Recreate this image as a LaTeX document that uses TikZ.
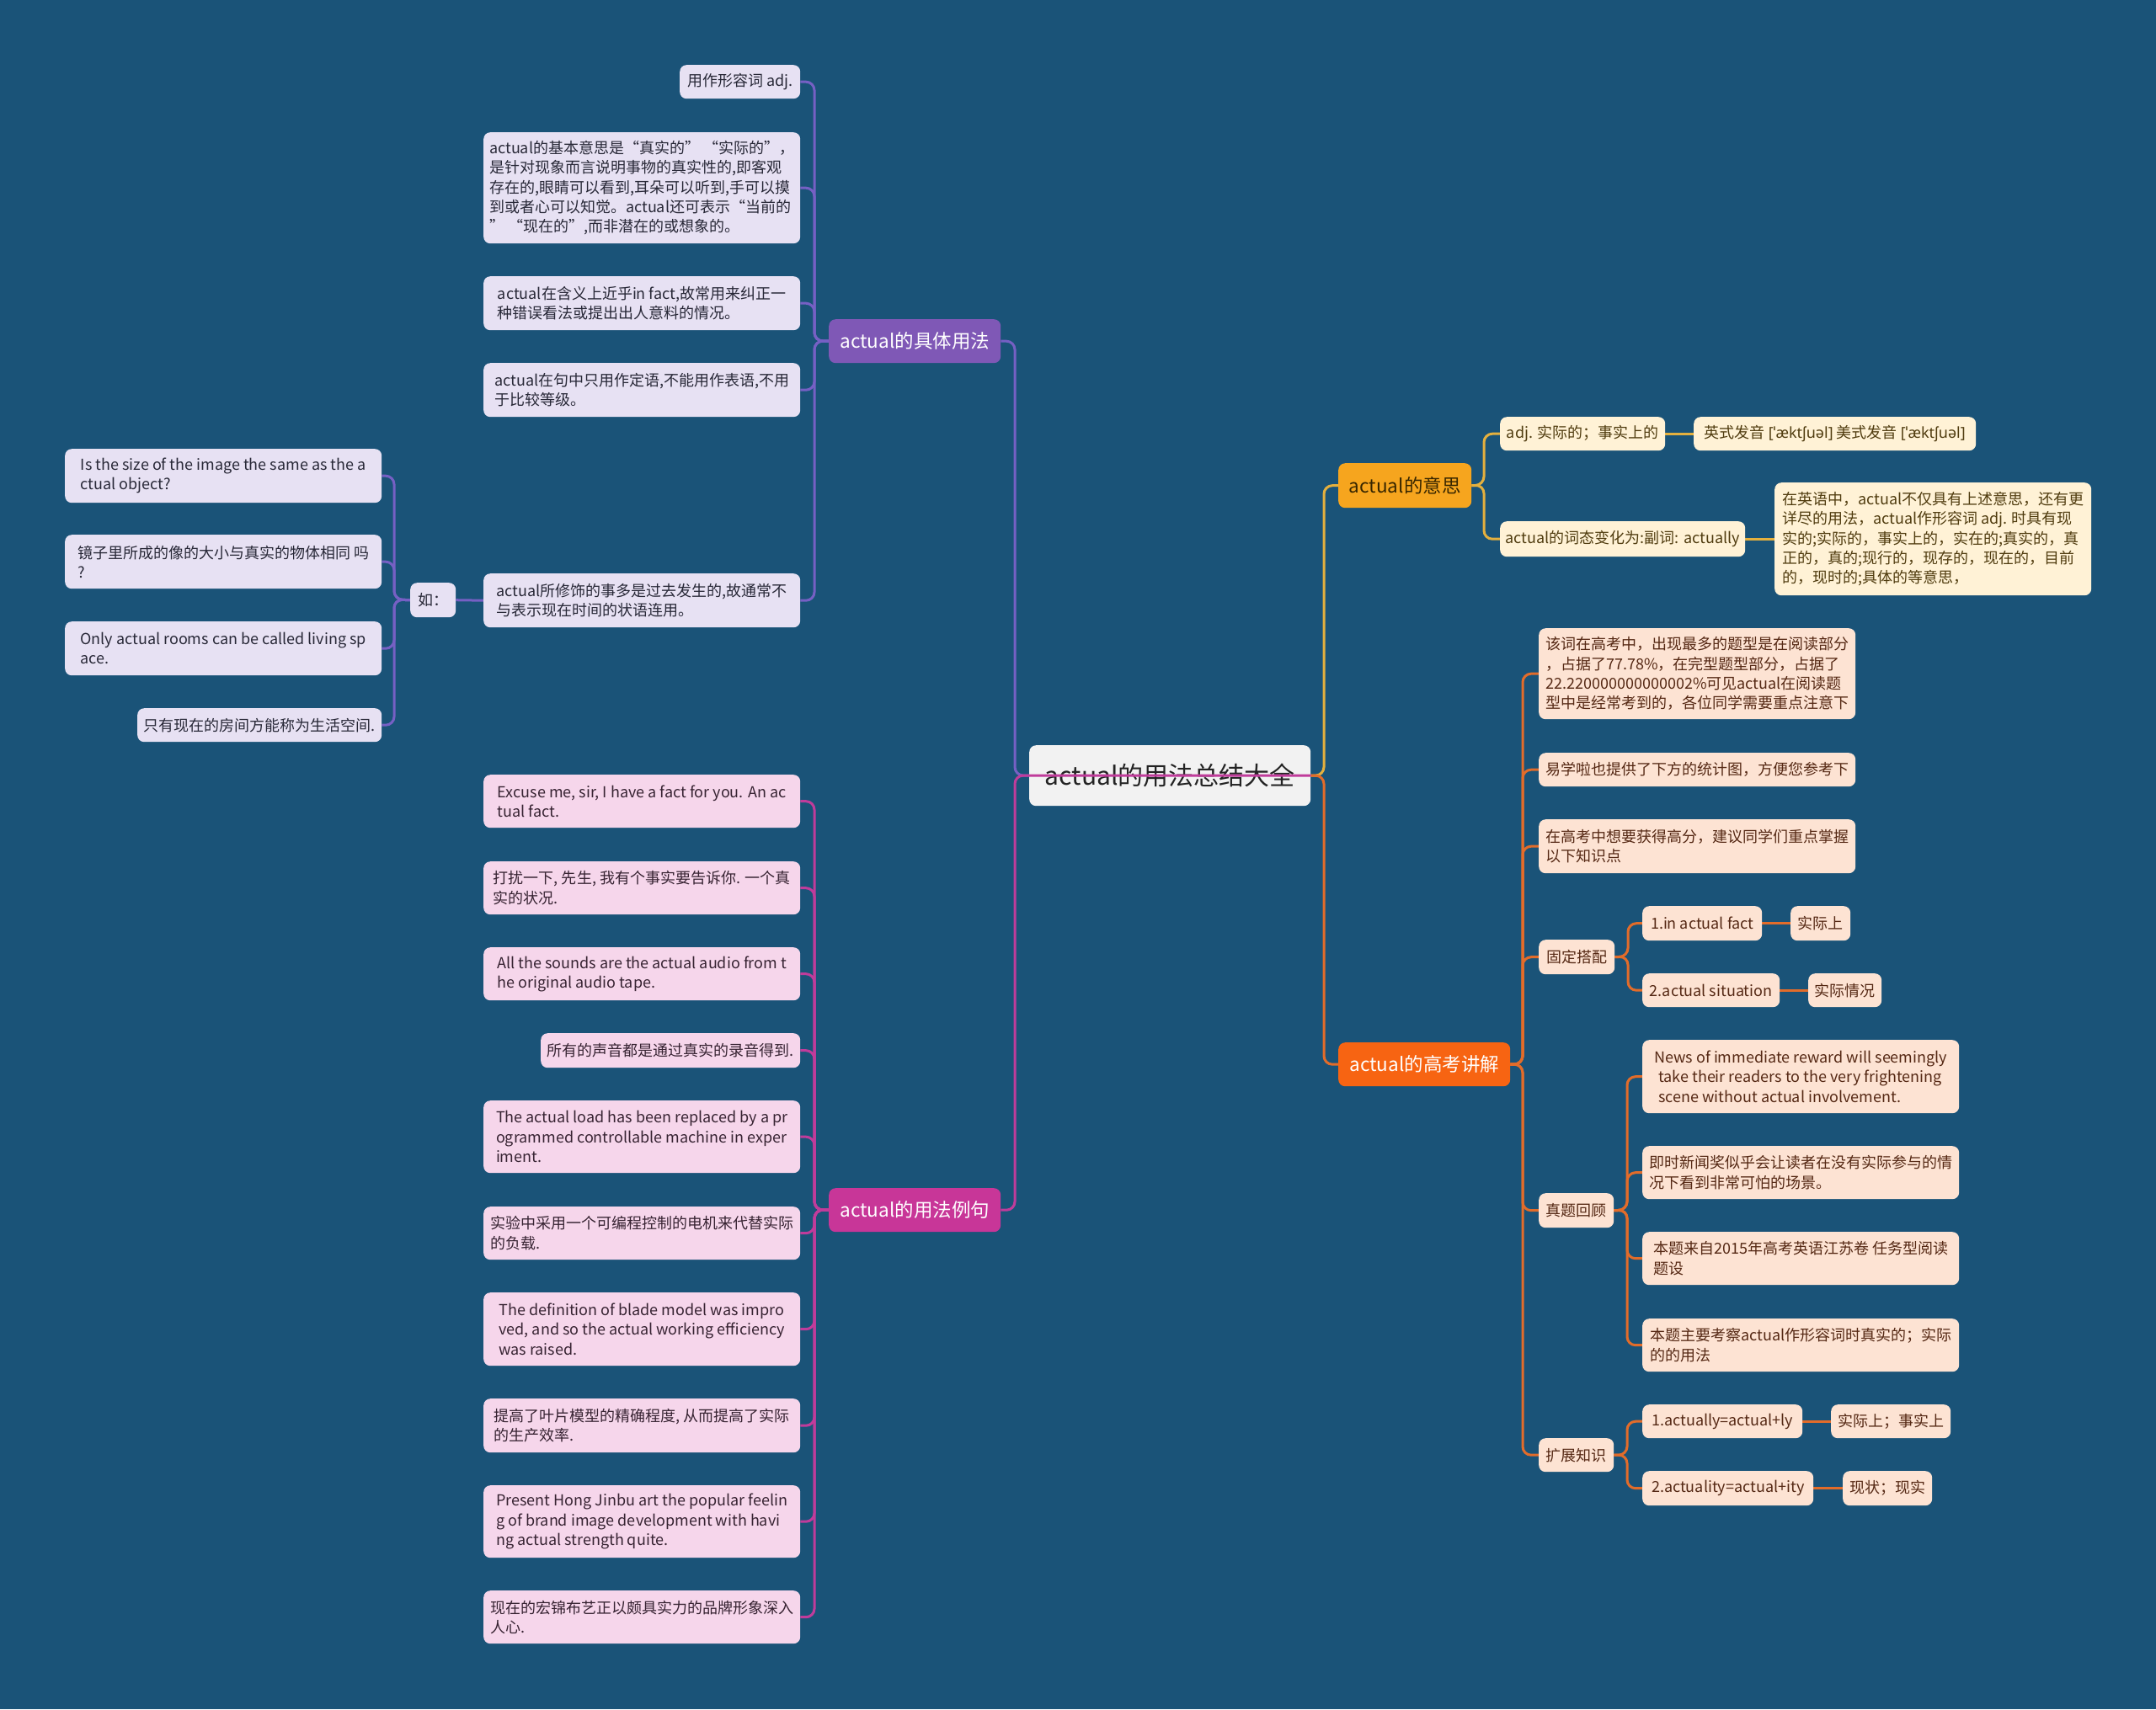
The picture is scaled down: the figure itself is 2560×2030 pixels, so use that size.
\documentclass[tikz,border=0pt]{standalone}
\usepackage{fontspec}
\setmainfont{Noto Sans CJK SC}
\newfontfamily\ipafont{Noto Sans}
\newcommand\leaffont{\fontsize{18}{23.3}\selectfont}
\newcommand\branchfont{\fontsize{22.5}{27}\selectfont}
\newcommand\rootfont{\fontsize{30}{36}\selectfont}
\definecolor{bgc}{RGB}{26,83,120}
\definecolor{purb}{RGB}{127,88,182}
\definecolor{purl}{RGB}{118,96,196}
\definecolor{magb}{RGB}{200,54,152}
\definecolor{magl}{RGB}{192,60,155}
\definecolor{goldb}{RGB}{246,165,30}
\definecolor{goldl}{RGB}{228,176,62}
\definecolor{orab}{RGB}{247,100,18}
\definecolor{oral}{RGB}{226,108,42}
\definecolor{lavf}{RGB}{231,225,243}
\definecolor{pinkf}{RGB}{246,214,235}
\definecolor{creamf}{RGB}{255,242,214}
\definecolor{peachf}{RGB}{253,227,211}
\definecolor{rootf}{RGB}{242,242,242}
\definecolor{lavt}{RGB}{40,40,55}
\definecolor{pinkt}{RGB}{55,35,50}
\definecolor{creamt}{RGB}{80,60,15}
\definecolor{peacht}{RGB}{85,40,20}
\pgfdeclarelayer{bg}
\pgfdeclarelayer{lines}
\pgfsetlayers{bg,lines,main}
\tikzset{
  sz/.style 2 args={minimum width=#1, minimum height=#2},
  box/.style={rounded corners=8pt, inner xsep=6pt, inner ysep=3pt, align=left, anchor=north west, font=\leaffont},
  lav/.style={box, fill=lavf, text=lavt},
  pnk/.style={box, fill=pinkf, text=pinkt},
  crm/.style={box, fill=creamf, text=creamt},
  pch/.style={box, fill=peachf, text=peacht},
  branch/.style={rounded corners=8pt, inner sep=0pt, align=center, anchor=north west, font=\branchfont},
  conn/.style={line width=3pt, rounded corners=10pt},
  cpur/.style={conn, draw=purl},
  cmag/.style={conn, draw=magl},
  cgold/.style={conn, draw=goldl},
  cora/.style={conn, draw=oral},
}
\begin{document}
\begin{tikzpicture}[x=1pt,y=-1pt]
\useasboundingbox (0,0) rectangle (2560,2030);
\begin{pgfonlayer}{bg}
\fill[bgc] (0,0) rectangle (2560,2030);
\end{pgfonlayer}

% root
\node[rounded corners=8pt, fill=rootf, text={rgb,255:red,35;green,35;blue,35}, font=\rootfont, anchor=north west, sz={334}{72}, inner sep=0pt] (root) at (1222,885) {actual的用法总结大全};

% branches
\node[branch, fill=purb, text=white, sz={204}{52}] (b1) at (984,379) {actual的具体用法};
\node[branch, fill=magb, text=white, sz={204}{52}] (b2) at (984,1411) {actual的用法例句};
\node[branch, fill=goldb, text={rgb,255:red,55;green,38;blue,0}, sz={158}{53}] (b3) at (1589,550) {actual的意思};
\node[branch, fill=orab, text=white, sz={204}{52}] (b4) at (1589,1238) {actual的高考讲解};

% purple leaves
\node[lav, sz={143}{40}] (p1) at (807,77) {用作形容词 adj.};
\node[lav, sz={376}{132}] (p2) at (574,157) {actual的基本意思是“真实的” “实际的”，\\是针对现象而言说明事物的真实性的,即客观\\存在的,眼睛可以看到,耳朵可以听到,手可以摸\\到或者心可以知觉。actual还可表示“当前的\\” “现在的”,而非潜在的或想象的。};
\node[lav, sz={376}{64}] (p3) at (574,328) {actual在含义上近乎in fact,故常用来纠正一\\种错误看法或提出出人意料的情况。};
\node[lav, sz={376}{64}] (p4) at (574,431) {actual在句中只用作定语,不能用作表语,不用\\于比较等级。};
\node[lav, sz={376}{64}] (p5) at (574,681) {actual所修饰的事多是过去发生的,故通常不\\与表示现在时间的状语连用。};
\node[lav, sz={54}{41}, inner xsep=6pt] (pr) at (487,692) {如：};
\node[lav, sz={376}{64}] (q1) at (77,533) {Is the size of the image the same as the a\\ctual object?};
\node[lav, sz={376}{64}] (q2) at (77,635) {镜子里所成的像的大小与真实的物体相同 吗\\?};
\node[lav, sz={376}{64}] (q3) at (77,738) {Only actual rooms can be called living sp\\ace.};
\node[lav, sz={290}{40}] (q4) at (163,841) {只有现在的房间方能称为生活空间.};

% magenta leaves
\node[pnk, sz={376}{63}] (m1) at (574,920) {Excuse me, sir, I have a fact for you. An ac\\tual fact.};
\node[pnk, sz={376}{63}] (m2) at (574,1023) {打扰一下, 先生, 我有个事实要告诉你. 一个真\\实的状况.};
\node[pnk, sz={376}{63}] (m3) at (574,1125) {All the sounds are the actual audio from t\\he original audio tape.};
\node[pnk, sz={308}{41}] (m4) at (642,1227) {所有的声音都是通过真实的录音得到.};
\node[pnk, sz={376}{86}] (m5) at (574,1307) {The actual load has been replaced by a pr\\ogrammed controllable machine in exper\\iment.};
\node[pnk, sz={376}{63}] (m6) at (574,1433) {实验中采用一个可编程控制的电机来代替实际\\的负载.};
\node[pnk, sz={376}{87}] (m7) at (574,1535) {The definition of blade model was impro\\ved, and so the actual working efficiency\\was raised.};
\node[pnk, sz={376}{64}] (m8) at (574,1661) {提高了叶片模型的精确程度, 从而提高了实际\\的生产效率.};
\node[pnk, sz={376}{86}] (m9) at (574,1764) {Present Hong Jinbu art the popular feelin\\g of brand image development with havi\\ng actual strength quite.};
\node[pnk, sz={376}{63}] (m10) at (574,1889) {现在的宏锦布艺正以颇具实力的品牌形象深入\\人心.};

% gold leaves
\node[crm, sz={196}{40}] (y1) at (1781,495) {adj. 实际的；事实上的};
\node[crm, sz={335}{40}] (y2) at (2011,495) {英式发音 {\ipafont [ˈæktʃuəl]} 美式发音 {\ipafont [ˈæktʃuəl]}};
\node[crm, sz={291}{42}] (y3) at (1781,619) {actual的词态变化为:副词: actually};
\node[crm, sz={376}{134}] (y4) at (2107,573) {在英语中，actual不仅具有上述意思，还有更\\详尽的用法，actual作形容词 adj. 时具有现\\实的;实际的，事实上的，实在的;真实的，真\\正的，真的;现行的，现存的，现在的，目前\\的，现时的;具体的等意思，};

% orange leaves
\node[pch, sz={376}{108}] (o1) at (1827,746) {该词在高考中，出现最多的题型是在阅读部分\\，占据了77.78\%，在完型题型部分，占据了\\22.220000000000002\%可见actual在阅读题\\型中是经常考到的，各位同学需要重点注意下};
\node[pch, sz={376}{40}] (o2) at (1827,894) {易学啦也提供了下方的统计图，方便您参考下};
\node[pch, sz={376}{64}] (o3) at (1827,973) {在高考中想要获得高分，建议同学们重点掌握\\以下知识点};
\node[pch, sz={90}{41}] (o4) at (1827,1116) {固定搭配};
\node[pch, sz={142}{41}] (o41) at (1950,1076) {1.in actual fact};
\node[pch, sz={71}{41}] (o411) at (2126,1076) {实际上};
\node[pch, sz={163}{40}] (o42) at (1950,1156) {2.actual situation};
\node[pch, sz={87}{40}] (o421) at (2147,1156) {实际情况};
\node[pch, sz={89}{41}] (o5) at (1827,1417) {真题回顾};
\node[pch, sz={376}{87}] (o51) at (1950,1235) {News of immediate reward will seemingly\\\hspace*{5pt}take their readers to the very frightening\\\hspace*{5pt}scene without actual involvement.};
\node[pch, sz={376}{63}] (o52) at (1950,1361) {即时新闻奖似乎会让读者在没有实际参与的情\\况下看到非常可怕的场景。};
\node[pch, sz={376}{63}] (o53) at (1950,1463) {本题来自2015年高考英语江苏卷 任务型阅读\\题设};
\node[pch, sz={376}{63}] (o54) at (1950,1566) {本题主要考察actual作形容词时真实的；实际\\的的用法};
\node[pch, sz={89}{40}] (o6) at (1827,1708) {扩展知识};
\node[pch, sz={190}{40}] (o61) at (1950,1668) {1.actually=actual+ly};
\node[pch, sz={142}{40}] (o611) at (2174,1668) {实际上；事实上};
\node[pch, sz={203}{41}] (o62) at (1950,1747) {2.actuality=actual+ity};
\node[pch, sz={106}{41}] (o621) at (2188,1747) {现状；现实};

% junctions
\coordinate (cjL) at (1205,921);
\coordinate (cjR) at (1572,921);
\coordinate (jp) at (967,405);
\coordinate (jr) at (468,712);
\coordinate (jm) at (967,1437);
\coordinate (jy) at (1762,576);
\coordinate (jo) at (1808,1264);
\coordinate (jf) at (1933,1136);
\coordinate (jz) at (1932,1437);
\coordinate (jk) at (1932,1728);

\begin{pgfonlayer}{lines}
\draw[cpur] (b1.east) -| (cjL) -- (root.west);
\draw[cgold] (root.east) -- (cjR) |- (b3.west);
\draw[cora] (root.east) -- (cjR) |- (b4.west);
\foreach \c in {p1,p2,p3,p4,p5} \draw[cpur] (\c.east) -| (jp) -- (b1.west);
\draw[cpur] (p5.west) -- (pr.east);
\foreach \c in {q1,q2,q3,q4} \draw[cpur] (\c.east) -| (jr) -- (pr.west);
\foreach \c in {m1,m2,m3,m4,m5,m6,m7,m8,m9,m10} \draw[cmag] (\c.east) -| (jm) -- (b2.west);
\foreach \c in {y1,y3} \draw[cgold] (b3.east) -- (jy) |- (\c.west);
\draw[cgold] (y1.east) -- (y2.west);
\draw[cgold] (y3.east) -- (y4.west);
\foreach \c in {o1,o2,o3,o4,o5,o6} \draw[cora] (b4.east) -- (jo) |- (\c.west);
\foreach \c in {o41,o42} \draw[cora] (o4.east) -- (jf) |- (\c.west);
\draw[cora] (o41.east) -- (o411.west);
\draw[cora] (o42.east) -- (o421.west);
\foreach \c in {o51,o52,o53,o54} \draw[cora] (o5.east) -- (jz) |- (\c.west);
\foreach \c in {o61,o62} \draw[cora] (o6.east) -- (jk) |- (\c.west);
\draw[cora] (o61.east) -- (o611.west);
\draw[cora] (o62.east) -- (o621.west);
\end{pgfonlayer}

% magenta root link drawn over the root node, as in the reference
\draw[cmag] (b2.east) -| (cjL) -- (root.east);
\end{tikzpicture}
\end{document}
